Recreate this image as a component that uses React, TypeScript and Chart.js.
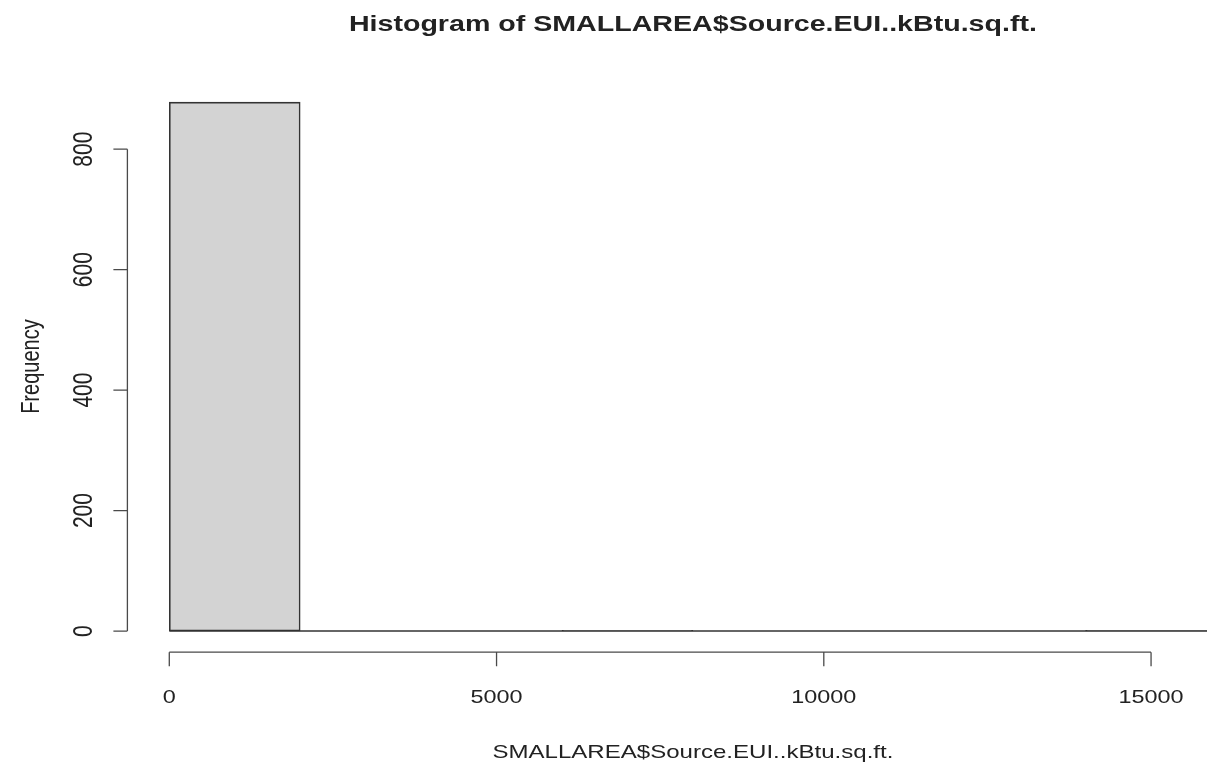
import React, { useEffect, useRef } from "react";
import { Chart, registerables } from "chart.js";

Chart.register(...registerables);

// ---- data ----
const binEdges = [0, 2000, 4000, 6000, 8000, 10000, 12000, 14000, 16000];
const counts = [878, 0, 0, 1, 0, 0, 0, 1];
const xTicks = [0, 5000, 10000, 15000];
const yTicks = [0, 200, 400, 600, 800];
const titleText = "Histogram of SMALLAREA$Source.EUI..kBtu.sq.ft.";
const xLabel = "SMALLAREA$Source.EUI..kBtu.sq.ft.";
const yLabel = "Frequency";

// ---- style ----
const FONT = "'Liberation Sans', Arial, sans-serif";
const STRETCH = 1.3;
const BAR_FILL = "#d3d3d3";
const BAR_BORDER = "#333333";
const AXIS_COLOR = "#4a4a4a";
const TEXT_COLOR = "#222222";
const CANVAS_W = 1300;
const CANVAS_H = 768;

const rStyle = {
  id: "rStyle",
  afterDraw(chart: any) {
    const { ctx, chartArea: a, scales } = chart;
    const x = scales.x;
    const y = scales.y;
    ctx.save();

    // zero-height bins (R draws them as flat rectangles)
    ctx.strokeStyle = BAR_BORDER;
    ctx.lineWidth = 1.6;
    ctx.beginPath();
    ctx.moveTo(x.getPixelForValue(binEdges[0]), y.getPixelForValue(0));
    ctx.lineTo(x.getPixelForValue(binEdges[binEdges.length - 1]), y.getPixelForValue(0));
    ctx.stroke();

    const tickLen = 14;
    ctx.strokeStyle = AXIS_COLOR;
    ctx.lineWidth = 1.3;

    // y axis
    const ax = a.left;
    ctx.beginPath();
    ctx.moveTo(ax, y.getPixelForValue(yTicks[0]));
    ctx.lineTo(ax, y.getPixelForValue(yTicks[yTicks.length - 1]));
    yTicks.forEach((t) => {
      const py = y.getPixelForValue(t);
      ctx.moveTo(ax, py);
      ctx.lineTo(ax - tickLen, py);
    });
    ctx.stroke();

    // x axis
    const ay = a.bottom;
    ctx.beginPath();
    ctx.moveTo(x.getPixelForValue(xTicks[0]), ay);
    ctx.lineTo(x.getPixelForValue(xTicks[xTicks.length - 1]), ay);
    xTicks.forEach((t) => {
      const px = x.getPixelForValue(t);
      ctx.moveTo(px, ay);
      ctx.lineTo(px, ay + tickLen);
    });
    ctx.stroke();

    ctx.fillStyle = TEXT_COLOR;

    const hText = (s: string, px: number, py: number, font: string) => {
      ctx.save();
      ctx.translate(px, py);
      ctx.scale(STRETCH, 1);
      ctx.font = font;
      ctx.textAlign = "center";
      ctx.textBaseline = "alphabetic";
      ctx.fillText(s, 0, 0);
      ctx.restore();
    };
    const vText = (s: string, px: number, py: number, font: string) => {
      ctx.save();
      ctx.translate(px, py);
      ctx.scale(STRETCH, 1);
      ctx.rotate(-Math.PI / 2);
      ctx.font = font;
      ctx.textAlign = "center";
      ctx.textBaseline = "middle";
      ctx.fillText(s, 0, 0);
      ctx.restore();
    };

    // x tick labels
    xTicks.forEach((t) => {
      hText(String(t), x.getPixelForValue(t), ay + 51, `18px ${FONT}`);
    });
    // y tick labels
    yTicks.forEach((t) => {
      vText(String(t), ax - 43, y.getPixelForValue(t), `21px ${FONT}`);
    });

    const cx = (a.left + a.right) / 2;
    const cy = (a.top + a.bottom) / 2;
    hText(titleText, cx, a.top - 50, `bold 22px ${FONT}`);
    hText(xLabel, cx, ay + 106, `18.5px ${FONT}`);
    vText(yLabel, ax - 96, cy, `20px ${FONT}`);

    ctx.restore();
  },
};

export default function App() {
  const ref = useRef<HTMLCanvasElement | null>(null);

  useEffect(() => {
    if (!ref.current) return;
    const lo = binEdges[0];
    const hi = binEdges[binEdges.length - 1];
    const xPad = (hi - lo) * 0.04;
    const yMax = Math.max(...counts);
    const yPad = yMax * 0.04;

    const points = counts.map((c, i) => ({
      x: (binEdges[i] + binEdges[i + 1]) / 2,
      y: c,
    }));

    const chart = new Chart(ref.current, {
      type: "bar",
      data: {
        datasets: [
          {
            data: points as any,
            backgroundColor: BAR_FILL,
            borderColor: BAR_BORDER,
            borderWidth: 1.6,
            borderSkipped: false,
            barPercentage: 1,
            categoryPercentage: 1,
          },
        ],
      },
      options: {
        animation: false,
        responsive: false,
        devicePixelRatio: 1,
        layout: {
          padding: { left: 127.4, right: 41.6, top: 81, bottom: 115.8 },
        },
        plugins: {
          legend: { display: false },
          tooltip: { enabled: false },
          title: { display: false },
        },
        scales: {
          x: {
            type: "linear",
            min: lo - xPad,
            max: hi + xPad,
            offset: false,
            display: false,
          },
          y: {
            type: "linear",
            min: -yPad,
            max: yMax + yPad,
            display: false,
          },
        },
      },
      plugins: [rStyle],
    });
    return () => chart.destroy();
  }, []);

  return (
    <div
      style={{
        position: "fixed",
        left: 0,
        top: 0,
        width: 1207,
        height: 768,
        overflow: "hidden",
        background: "#ffffff",
      }}
    >
      <canvas
        ref={ref}
        width={CANVAS_W}
        height={CANVAS_H}
        style={{ display: "block", width: CANVAS_W, height: CANVAS_H }}
      />
    </div>
  );
}
